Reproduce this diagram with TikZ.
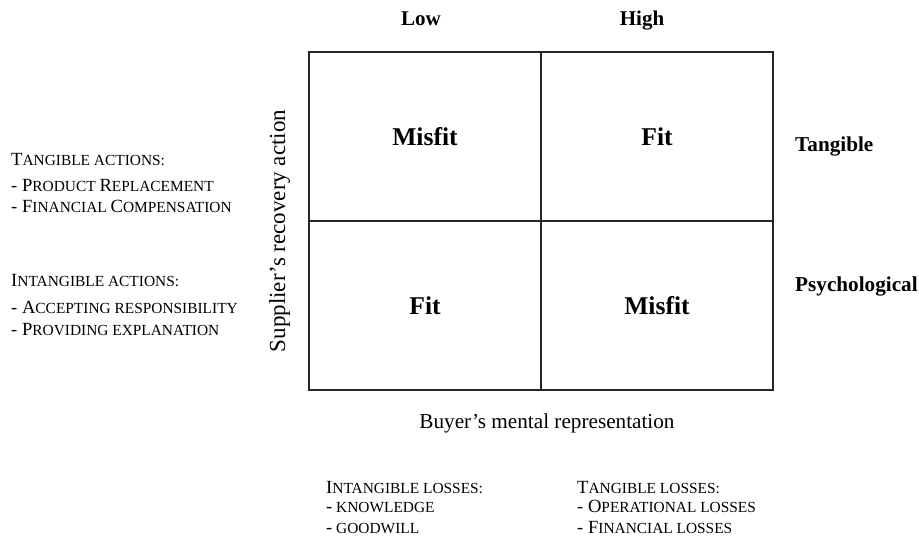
\documentclass[tikz,border=0pt]{standalone}
\usepackage{fontspec}
\setmainfont{Liberation Serif}
\newcommand\Cap[1]{{\fontsize{18.6}{21}\selectfont #1}}
\begin{document}
\begin{tikzpicture}[x=1pt,y=-1pt,
  sc/.style={anchor=base west, inner sep=0pt, font=\fontsize{15.4}{18}\selectfont},
  hdr/.style={anchor=base, inner sep=0pt, font=\fontsize{21}{24}\selectfont\bfseries},
  side/.style={anchor=base west, inner sep=0pt, font=\fontsize{21.2}{24}\selectfont\bfseries},
  cell/.style={anchor=base, inner sep=0pt, font=\fontsize{25.6}{30}\selectfont\bfseries},
  axis/.style={anchor=base, inner sep=0pt, font=\fontsize{21.2}{25}\selectfont},
  gridline/.style={draw=black!85, line width=1.2pt}]
\useasboundingbox (0,0) rectangle (919,538);
% matrix box
\coordinate (tlc) at (309,52);
\coordinate (brc) at (773,390);
\coordinate (mt) at (541,52);
\coordinate (mb) at (541,390);
\coordinate (ml) at (309,221);
\coordinate (mr) at (773,221);
\draw[gridline] (tlc) rectangle (brc);
\draw[gridline] (mt) -- (mb);
\draw[gridline] (ml) -- (mr);
% column headers
\node[hdr] (low) at (421,25.7) {Low};
\node[hdr] (high) at (642,25.7) {High};
% cells
\node[cell] (c11) at (425,145) {Misfit};
\node[cell] (c12) at (657,145) {Fit};
\node[cell] (c21) at (425,314) {Fit};
\node[cell] (c22) at (657,314) {Misfit};
% row labels
\node[side] (tang) at (795,151.7) {Tangible};
\node[side] (psych) at (795,291.7) {Psychological};
% axis titles
\node[axis] (xax) at (547,428.3) {Buyer’s mental representation};
\node[axis, rotate=90, font=\fontsize{23}{27}\selectfont] (yax) at (285,231) {Supplier’s recovery action};
% left lists
\node[sc] (ta) at (11,165) {\Cap{T}ANGIBLE ACTIONS:};
\node[sc] (ta1) at (11,191) {\Cap{- P}RODUCT \Cap{R}EPLACEMENT};
\node[sc] (ta2) at (11,212.7) {\Cap{- F}INANCIAL \Cap{C}OMPENSATION};
\node[sc] (ia) at (11,286.7) {\Cap{I}NTANGIBLE ACTIONS:};
\node[sc] (ia1) at (11,313.3) {\Cap{- A}CCEPTING RESPONSIBILITY};
\node[sc] (ia2) at (11,335) {\Cap{- P}ROVIDING EXPLANATION};
% bottom lists
\node[sc] (il) at (326,493.3) {\Cap{I}NTANGIBLE LOSSES:};
\node[sc] (il1) at (326,512.3) {\Cap{-} KNOWLEDGE};
\node[sc] (il2) at (326,533.3) {\Cap{-} GOODWILL};
\node[sc] (tl) at (577,493.3) {\Cap{T}ANGIBLE LOSSES:};
\node[sc] (tl1) at (577,512.3) {\Cap{- O}PERATIONAL LOSSES};
\node[sc] (tl2) at (577,533.3) {\Cap{- F}INANCIAL LOSSES};
\end{tikzpicture}
\end{document}
